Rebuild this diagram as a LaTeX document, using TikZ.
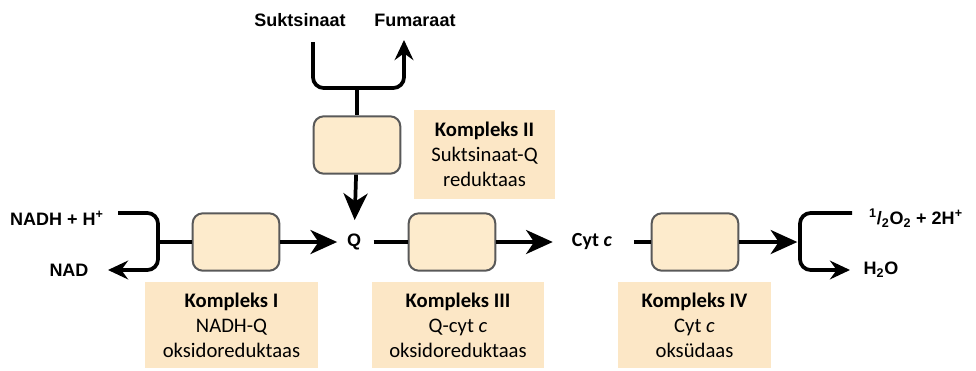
\documentclass[tikz,border=0pt]{standalone}
\usepackage{fontspec}
\setmainfont{Carlito}
\newfontfamily\chemfont{Liberation Sans}
\usetikzlibrary{arrows.meta,positioning}

\definecolor{enzfill}{RGB}{253,235,204}
\definecolor{labfill}{RGB}{252,231,198}
\definecolor{linegray}{RGB}{38,38,38}

\begin{document}
\begin{tikzpicture}[x=0.75pt,y=-0.75pt,line width=2.8pt,
    >={Stealth[length=20pt,width=18pt,inset=6pt]},
    enz/.style={draw=black!65,line width=1.5pt,fill=enzfill,rounded corners=7.5pt,
      minimum width=65pt,minimum height=43pt,inner sep=0pt},
    lab/.style={fill=labfill,align=center,inner sep=0pt,minimum height=65pt,
      font=\fontsize{15.5}{18.75}\selectfont},
    chem/.style={font=\chemfont\bfseries\fontsize{13.5}{16}\selectfont,inner sep=3pt},
    cyt/.style={font=\bfseries\fontsize{15}{18}\selectfont,inner sep=3pt},
    small/.style={-{Stealth[length=15pt,width=14pt,inset=5pt]}}]
  \useasboundingbox (0,0) rectangle (976,371);

  % complexes on the chain
  \node[enz] (c1) at (236,242) {};
  \node[enz] (c2) at (357,145) {};
  \node[enz] (c3) at (452,242) {};
  \node[enz] (c4) at (695,242) {};

  % names of the complexes
  \node[lab,minimum width=130pt] (l1) at (231.5,325) {\textbf{Kompleks I}\\NADH-Q\\oksidoreduktaas};
  \node[lab,minimum width=106pt,minimum height=67pt] (l2) at (484.5,154.5) {\textbf{Kompleks II}\\Suktsinaat-Q\\reduktaas};
  \node[lab,minimum width=129pt] (l3) at (458,325) {\textbf{Kompleks III}\\Q-cyt \textit{c}\\oksidoreduktaas};
  \node[lab,minimum width=115pt] (l4) at (694.5,325) {\textbf{Kompleks IV}\\Cyt \textit{c}\\oksüdaas};

  % substrates and products
  \node[chem] (nadh) at (57,218) {NADH + H\textsuperscript{+}};
  \node[chem] (nad) at (69,270) {NAD};
  \node[chem] (suk) at (300,20) {Suktsinaat};
  \node[chem] (fum) at (415,20) {Fumaraat};
  \node[chem] (q) at (354,242) {Q};
  \node[cyt] (cytc) at (592,242) {Cyt \textit{c}};
  \node[chem] (o2) at (916,218) {\textsuperscript{1}/\textsubscript{2}O\textsubscript{2} + 2H\textsuperscript{+}};
  \node[chem] (h2o) at (881,270) {H\textsubscript{2}O};

  % ends of the brackets
  \coordinate (nadhin) at (118,213);
  \coordinate (nadout) at (108,270);
  \coordinate (lbr) at (158,242);
  \coordinate (sukin) at (313,42);
  \coordinate (fumout) at (404,40);
  \coordinate (tbr) at (357,88);
  \coordinate (o2in) at (852,213);
  \coordinate (h2oout) at (850,270);
  \coordinate (rbr) at (800,242);

  \draw[small,rounded corners=8pt] (nadhin) -| (lbr) |- (nadout);
  \draw (lbr) -- (c1);
  \draw[->,shorten >=3pt] (c1) -- (q);
  \draw[small,rounded corners=8pt] (sukin) |- (tbr) -| (fumout);
  \draw (tbr) -- (c2);
  \draw[->,shorten >=6pt] (c2) -- (q);
  \draw[shorten <=5pt] (q) -- (c3);
  \draw[->,shorten >=10pt] (c3) -- (cytc);
  \draw[shorten <=12pt] (cytc) -- (c4);
  \draw[->,shorten >=2pt] (c4) -- (rbr);
  \draw[small,rounded corners=8pt] (o2in) -| (rbr) |- (h2oout);
\end{tikzpicture}
\end{document}
